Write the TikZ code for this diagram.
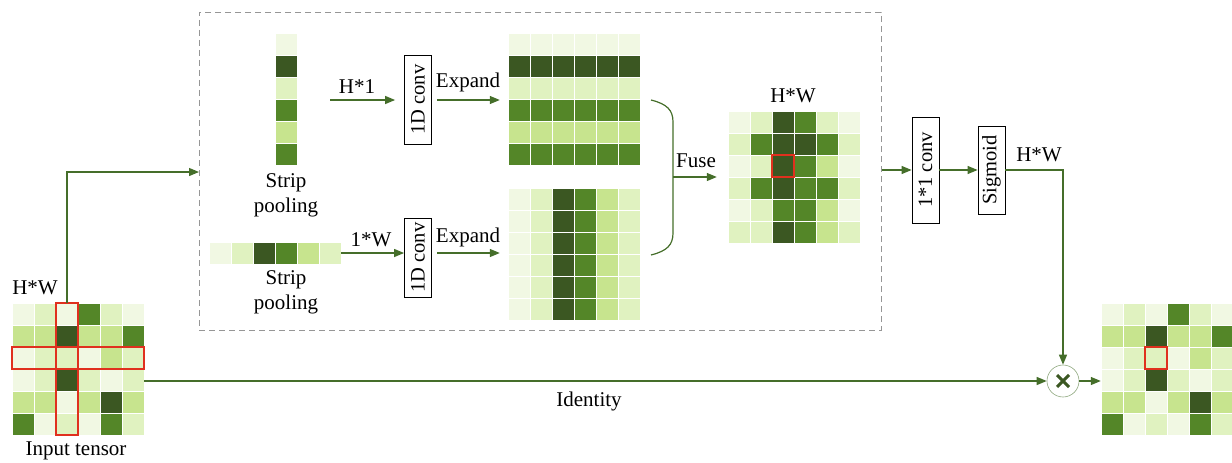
\documentclass[tikz,border=0pt]{standalone}
\usepackage{fontspec}
\setmainfont{Liberation Serif}
\usetikzlibrary{arrows.meta}

% cell shades, lightest to darkest
\definecolor{ca}{HTML}{F1F8E3}
\definecolor{cb}{HTML}{E0F2C0}
\definecolor{cc}{HTML}{C7E48E}
\definecolor{cd}{HTML}{548628}
\definecolor{ce}{HTML}{3B5722}
\definecolor{flow}{HTML}{456E2A}
\definecolor{mark}{HTML}{E0301E}
\definecolor{frame}{HTML}{969696}

% one row of 22-unit cells: x of left edge, y of top edge, list of colours
\newcommand\cellrow[3]{%
  \foreach \cl [count=\ci from 0] in {#3}
    {\fill[\cl, draw=white, line width=0.7pt] ({#1+22*\ci},{#2}) rectangle ++(22,22);}}

\tikzset{
  lbl/.style={inner sep=0pt, font=\fontsize{21}{24}\selectfont},
  opbox/.style={draw=black, line width=0.8pt, fill=white, inner sep=0pt,
    minimum width=27, font=\fontsize{20.5}{23}\selectfont},
  conn/.style={draw=flow, line width=1.2pt},
  arr/.style={conn, -{Triangle[length=10pt,width=8pt]}},
  hit/.style={draw=mark, line width=2pt},
  gridarea/.style={inner sep=0pt, minimum width=132, minimum height=132},
}

\begin{document}
\begin{tikzpicture}[x=1pt, y=-1pt]
\useasboundingbox (0,0) rectangle (1232,463);

% ---------- dashed frame around the strip-pooling branch ----------
\node[draw=frame, dash pattern=on 6pt off 4pt, line width=1pt, inner sep=0pt,
      minimum width=682, minimum height=318] (dbox) at (540,171) {};

% ---------- input tensor ----------
\node[gridarea] (in) at (78,369) {};
\cellrow{12}{303}{ca,cb,ca,cd,cb,ca}
\cellrow{12}{325}{cc,cc,ce,cc,cc,cd}
\cellrow{12}{347}{ca,cb,cb,ca,cc,cb}
\cellrow{12}{369}{ca,cb,ce,cb,ca,cb}
\cellrow{12}{391}{cc,cc,ca,cc,ce,cc}
\cellrow{12}{413}{cd,ca,cb,ca,cd,cb}
\draw[hit] (56,303) rectangle (78,435);
\draw[hit] (12,347) rectangle (144,369);
\node[lbl] (inhw) at (35,288) {H*W};
\node[lbl] (inlab) at (76,451) {Input tensor};

% ---------- output tensor ----------
\node[gridarea] (out) at (1167,369) {};
\cellrow{1101}{303}{ca,cb,ca,cd,cb,ca}
\cellrow{1101}{325}{cc,cc,ce,cc,cc,cd}
\cellrow{1101}{347}{ca,cb,cb,ca,cc,cb}
\cellrow{1101}{369}{ca,cb,ce,cb,ca,cb}
\cellrow{1101}{391}{cc,cc,ca,cc,ce,cc}
\cellrow{1101}{413}{cd,ca,cb,ca,cd,cb}
\draw[hit] (1145,347) rectangle (1167,369);

% ---------- vertical strip (H*1) ----------
\node[inner sep=0pt, minimum width=22, minimum height=132] (vstrip) at (286,99) {};
\foreach \shade [count=\k from 0] in {ca,ce,cb,cd,cc,cd}
  {\fill[\shade, draw=white, line width=0.7pt] (275,{33+22*\k}) rectangle ++(22,22);}
\node[lbl, align=center] (vlab) at (286,195) {Strip\\[1pt]pooling};

% ---------- horizontal strip (1*W) ----------
\node[inner sep=0pt, minimum width=132, minimum height=22] (hstrip) at (275,253) {};
\cellrow{209}{242}{ca,cb,ce,cd,cc,cb}
\node[lbl, align=center] (hlab) at (286,292) {Strip\\[1pt]pooling};

% ---------- 1D convolutions ----------
\node[opbox, minimum height=89] (conva) at (418,99.5) {\rotatebox{90}{1D conv}};
\node[opbox, minimum height=79] (convb) at (418,257.5) {\rotatebox{90}{1D conv}};

\coordinate (ha) at (330,100);
\draw[arr, shorten >=9pt] (ha) -- (conva.west |- ha);
\node[lbl] (hal) at (357,87) {H*1};
\draw[arr] (hstrip.east) -- (convb.west |- hstrip.east);
\node[lbl] (hbl) at (371,240) {1*W};

% ---------- expanded maps ----------
\node[gridarea] (expa) at (574,99) {};
\cellrow{508}{33}{ca,ca,ca,ca,ca,ca}
\cellrow{508}{55}{ce,ce,ce,ce,ce,ce}
\cellrow{508}{77}{cb,cb,cb,cb,cb,cb}
\cellrow{508}{99}{cd,cd,cd,cd,cd,cd}
\cellrow{508}{121}{cc,cc,cc,cc,cc,cc}
\cellrow{508}{143}{cd,cd,cd,cd,cd,cd}
\node[gridarea] (expb) at (574,254) {};
\foreach \r in {0,...,5}
  {\cellrow{508}{188+22*\r}{ca,cb,ce,cd,cc,cb}}

\coordinate (ea) at (437,100);
\draw[arr, shorten >=8pt] (ea) -- (expa.west |- ea);
\node[lbl] (eal) at (468,82) {Expand};
\coordinate (eb) at (437,253);
\draw[arr, shorten >=8pt] (eb) -- (expb.west |- eb);
\node[lbl] (ebl) at (468,237) {Expand};

% ---------- fuse ----------
\coordinate (fa) at (651,100);
\coordinate (fb) at (651,255);
\coordinate (fm) at (673,177);
\draw[conn] (fa) .. controls (667,104) and (673,110) .. (673,122)
  -- (673,233) .. controls (673,245) and (667,251) .. (fb);
\node[gridarea] (fused) at (793,177) {};
\draw[arr, shorten >=10pt] (fm) -- (fused.west |- fm);
\node[lbl] (fl) at (696,161) {Fuse};

\cellrow{728}{111}{ca,cb,ce,cd,cb,ca}
\cellrow{728}{133}{cb,cd,ce,ce,cd,cb}
\cellrow{728}{155}{ca,cb,ce,cd,cc,ca}
\cellrow{728}{177}{cb,cd,ce,cd,cd,cb}
\cellrow{728}{199}{ca,cb,cd,cd,cc,ca}
\cellrow{728}{221}{cb,cb,ce,cd,cc,cb}
\draw[hit] (772,155) rectangle (794,177);
\node[lbl] (fhw) at (793,96) {H*W};

% ---------- attention head ----------
\node[opbox, minimum height=106] (c11) at (925.5,170) {\rotatebox{90}{1*1 conv}};
\node[opbox, minimum height=88] (sig) at (991.5,170) {\rotatebox{90}{Sigmoid}};
\node[lbl] (shw) at (1039,155) {H*W};

\draw[arr] (dbox.east |- c11) -- (c11.west);
\draw[arr] (c11.east) -- (sig.west);

% ---------- multiply ----------
\node[circle, draw=flow!60, line width=0.6pt, minimum size=32, inner sep=0pt] (mul) at (1063,381) {};
\draw[ce, line width=3pt] ([shift={(-6,-6)}]mul.center) -- ([shift={(6,6)}]mul.center)
  ([shift={(-6,6)}]mul.center) -- ([shift={(6,-6)}]mul.center);

\draw[arr] (sig.east) -| (mul.north);
\draw[arr] (mul.east) -- (out.west |- mul);

% ---------- connections from the input ----------
\coordinate (intop) at (67,303);
\coordinate (enter) at (199,172);
\draw[arr] (intop) |- (enter);
\draw[arr] (in.east |- mul.west) -- (mul.west);
\node[lbl] (idl) at (589,401) {Identity};
\end{tikzpicture}
\end{document}
